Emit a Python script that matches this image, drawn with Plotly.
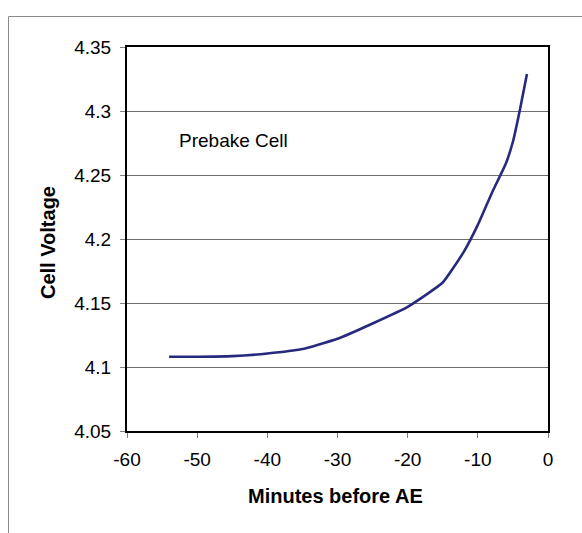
import plotly.graph_objects as go

minutes = [-54, -50, -45, -40, -35, -33, -30, -25, -20, -15, -12, -10, -8, -6, -5, -4, -3]
voltage = [4.108, 4.108, 4.1085, 4.1105, 4.114, 4.117, 4.122, 4.134, 4.147, 4.166, 4.190, 4.211, 4.236, 4.259, 4.276, 4.301, 4.329]

x_ticks = [-60, -50, -40, -30, -20, -10, 0]
y_ticks = [4.05, 4.1, 4.15, 4.2, 4.25, 4.3, 4.35]
y_labels = ["4.05", "4.1", "4.15", "4.2", "4.25", "4.3", "4.35"]

FONT = "Arial, Liberation Sans, sans-serif"
W, H = 582, 533
L, R, T, B = 127, 34, 47, 102
pw, ph = W - L - R, H - T - B

fig = go.Figure()
fig.add_trace(go.Scatter(x=minutes, y=voltage, mode="lines",
                         line=dict(color="#27297f", width=2.6, shape="spline", smoothing=0.4),
                         showlegend=False, hoverinfo="x+y"))

fig.update_layout(
    width=W, height=H,
    margin=dict(l=L, r=R, t=T, b=B),
    paper_bgcolor="white", plot_bgcolor="white",
    font=dict(family=FONT, color="black", size=18),
    xaxis=dict(range=[-60, 0], tickvals=x_ticks, ticktext=[str(v) for v in x_ticks],
               showgrid=False, zeroline=False, showline=True, linecolor="black", linewidth=2,
               mirror=True, ticks="outside", ticklen=5, tickcolor="#808080", tickwidth=1,
               tickfont=dict(size=19, family=FONT), ticklabelstandoff=5),
    yaxis=dict(range=[4.05, 4.35], tickvals=y_ticks, ticktext=y_labels,
               showgrid=True, gridcolor="#6e6e6e", gridwidth=1, zeroline=False,
               showline=True, linecolor="black", linewidth=2, mirror=True,
               ticks="outside", ticklen=5, tickcolor="#808080", tickwidth=1,
               tickfont=dict(size=19, family=FONT), ticklabelstandoff=5),
    annotations=[
        dict(text="Prebake Cell", x=-52.9, y=4.277, xref="x", yref="y",
             xanchor="left", yanchor="middle", showarrow=False,
             font=dict(size=19, family=FONT, color="black")),
        dict(text="<b>Minutes before AE</b>", x=(335 - L) / pw, y=(H - B - 496) / ph,
             xref="paper", yref="paper", xanchor="center", yanchor="middle",
             showarrow=False, font=dict(size=20, family=FONT, color="black")),
        dict(text="<b>Cell Voltage</b>", x=(48 - L) / pw, y=(H - B - 243) / ph,
             xref="paper", yref="paper", xanchor="center", yanchor="middle",
             textangle=-90, showarrow=False, font=dict(size=20, family=FONT, color="black")),
    ],
    shapes=[
        dict(type="line", xref="paper", yref="paper",
             x0=(8.5 - L) / pw, x1=(8.5 - L) / pw,
             y0=(H - B - 540) / ph, y1=(H - B - 16.5) / ph,
             line=dict(color="#8a8a8a", width=1)),
        dict(type="line", xref="paper", yref="paper",
             x0=(8.5 - L) / pw, x1=(600 - L) / pw,
             y0=(H - B - 16.5) / ph, y1=(H - B - 16.5) / ph,
             line=dict(color="#8a8a8a", width=1)),
    ],
)

fig.write_html("out.html")
